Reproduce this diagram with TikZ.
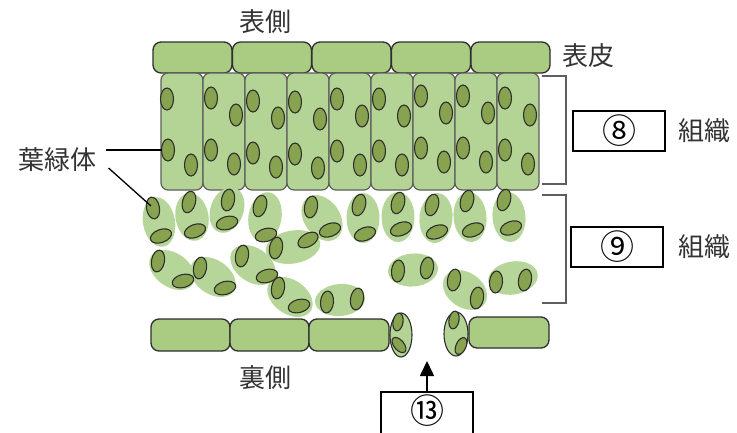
\documentclass[tikz,border=0pt]{standalone}
\usepackage{fontspec}
\setmainfont{Noto Sans CJK JP}
\usetikzlibrary{arrows.meta,calc}
\definecolor{epigreen}{HTML}{A9CB82}
\definecolor{palgreen}{HTML}{B4D495}
\definecolor{spgreen}{HTML}{B6D699}
\definecolor{chlgreen}{HTML}{87A34F}
\definecolor{cellline}{HTML}{2E2E2E}
\definecolor{palline}{HTML}{5E5E5E}
\tikzstyle{epi}=[fill=epigreen, draw=cellline, line width=1.3pt, rounded corners=8pt]
\tikzstyle{palis}=[fill=palgreen, draw=palline, line width=1.2pt, rounded corners=7pt]
\tikzstyle{spongy}=[fill=spgreen]
\tikzstyle{guard}=[fill=palgreen, draw=cellline, line width=1.1pt]
\tikzstyle{chloro}=[fill=chlgreen, draw=cellline, line width=1.1pt]
\tikzstyle{brace}=[draw=palline, line width=1.2pt]
\tikzstyle{numbox}=[draw, line width=1.7pt, minimum width=92pt, minimum height=40pt, inner sep=0pt, font=\fontsize{34}{34}\selectfont]
\tikzstyle{jlabel}=[font=\fontsize{26}{26}\selectfont, text=black!80]
% one chloroplast: x, y, angle
\newcommand{\chl}[3]{\draw[chloro, rotate around={#3:(#1,#2)}] (#1,#2) ellipse [x radius=6.5, y radius=11];}

\begin{document}
\begin{tikzpicture}[x=1pt,y=-1pt]
\useasboundingbox (0,0) rectangle (737,432);

% upper epidermis
\foreach \n in {0,...,4} {
	\draw[epi] (153+79.5*\n,42) rectangle (232+79.5*\n,73);
}

% palisade cells
\foreach \n in {0,...,8} {
	\draw[palis] (161+42*\n,73) rectangle (203+42*\n,190);
}
\chl{167}{99}{0}
\chl{168}{150}{0}
\chl{191}{165}{0}
\foreach \n/\d in {1/-1,2/2,3/3,4/0,5/0,6/-3,7/-3,8/-1} {
	\chl{169+42*\n}{99+\d}{0}
	\chl{194+42*\n}{116+\d}{0}
	\chl{169+42*\n}{151+\d}{0}
	\chl{192+42*\n}{165+\d}{0}
}

% spongy cells
\foreach \x/\y/\a/\b/\r in {159/222/16/25/10, 192/217/16.5/24/10, 227/210/16.5/23.5/-20,
	265/217/16.5/25/-10, 322/218/18/25/35, 363/218/16.5/25/0, 398/217/16.5/25/0,
	436/218/16.5/25/-5, 470/217/16.5/25/5, 509/217/16.5/25/5,
	293/247/27.5/16.5/10, 172/270/25/17/-35, 213/277/25/17/-35, 253/265/25/17/-35,
	290/297/25/17/-35, 340/300/25/16/5, 413/270/25/16.5/5, 465/290/24/17.5/-35,
	513/278/25/16.5/10} {
	\fill[spongy, rotate around={\r:(\x,\y)}] (\x,\y) ellipse [x radius=\a, y radius=\b];
}
\foreach \x/\y/\r in {153/208/10, 161/236/-70, 189/202/-15, 195/231/-70, 228/200/-10,
	227/223/-75, 260/206/-15, 266/235/-75, 311/207/-10, 330/230/-70, 359/205/-15,
	365/234/-70, 398/203/-15, 401/229/-70, 432/205/-15, 437/232/-70, 467/201/-15,
	473/230/-70, 504/200/-15, 511/228/-70,
	276/248/-10, 308/240/-60, 158/261/-10, 183/281/-75, 200/268/-10, 225/288/-75,
	242/256/-10, 267/276/-75, 278/288/-10, 299/306/-75, 327/302/-5, 357/299/-10,
	398/271/-5, 427/268/-10, 454/280/-10, 477/298/-10, 496/282/-5, 525/280/-10} {
	\chl{\x}{\y}{\r}
}

% lower epidermis and guard cells
\draw[epi] (151,319) rectangle (230,351);
\draw[epi] (230,319) rectangle (309,351);
\draw[epi] (309,319) rectangle (389,351);
\draw[epi] (469,317) rectangle (549,348);
\draw[guard] (401,335) ellipse [x radius=11, y radius=22];
\draw[guard] (456,334) ellipse [x radius=12, y radius=22];
\draw[chloro, rotate around={-10:(398,322)}] (398,322) ellipse [x radius=5, y radius=9];
\draw[chloro, rotate around={40:(399,345)}] (399,345) ellipse [x radius=5, y radius=9];
\draw[chloro, rotate around={-10:(454,320)}] (454,320) ellipse [x radius=5, y radius=9];
\draw[chloro, rotate around={-25:(461,346)}] (461,346) ellipse [x radius=5, y radius=9];

% brackets
\draw[brace] (542,76) -- (566,76) -- (566,184) -- (542,184);
\draw[brace] (542,195) -- (566,195) -- (566,303) -- (542,303);

% labels
\node[jlabel] (top) at (265,22) {表側};
\node[jlabel] (epid) at (588,56) {表皮};
\node[jlabel] (bottom) at (265,378) {裏側};
\node[jlabel] (chlabel) at (58,160) {葉緑体};
\node[numbox] (box8) at (619,131) {⑧};
\node[jlabel, anchor=west] (tis8) at (675,131) {組織};
\node[numbox] (box9) at (617,247) {⑨};
\node[jlabel, anchor=west] (tis9) at (675,247) {組織};
\node[numbox, minimum height=60pt, anchor=north] (box13) at (427,391) {};
\node[font=\fontsize{34}{34}\selectfont] (num13) at (427,411) {⑬};

\coordinate (chlA) at (162,150);
\coordinate (chlB) at (151,206);
\coordinate (pore) at (427,361);
\draw[line width=1.3pt] ($(chlabel.east)+(5,-10)$) -- (chlA);
\draw[line width=1.3pt] ($(chlabel.east)+(8,8)$) -- (chlB);
\draw[line width=1.6pt, -{Triangle[length=15pt,width=14pt]}] (box13.north) -- (pore);
\end{tikzpicture}
\end{document}
